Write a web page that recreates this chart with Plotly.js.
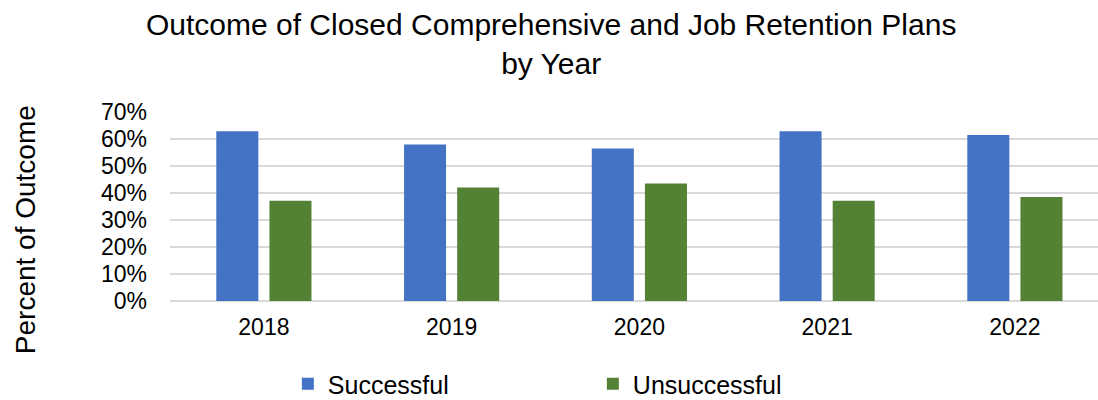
<!DOCTYPE html>
<html>
<head>
<meta charset="utf-8">
<script src="https://cdn.plot.ly/plotly-3.0.1.min.js"></script>
<style>html,body{margin:0;padding:0;background:#fff;} #chart{width:1098px;height:400px;}</style>
</head>
<body>
<div id="chart"></div>
<script>
const years = ['2018', '2019', '2020', '2021', '2022'];
const successful = [0.629, 0.580, 0.565, 0.629, 0.615];
const unsuccessful = [0.371, 0.420, 0.435, 0.371, 0.385];
const seriesNames = ['Successful', 'Unsuccessful'];
const yTickVals = [0, 0.1, 0.2, 0.3, 0.4, 0.5, 0.6, 0.7];

const FONT = 'Liberation Sans, Arial, sans-serif';

const traces = [
  {type: 'bar', name: seriesNames[0], x: years, y: successful, marker: {color: '#4472C4'}, hoverinfo: 'none'},
  {type: 'bar', name: seriesNames[1], x: years, y: unsuccessful, marker: {color: '#548235'}, hoverinfo: 'none'}
];

const layout = {
  width: 1098, height: 400,
  margin: {l: 170, r: 0, t: 112, b: 99, pad: 0, autoexpand: false},
  paper_bgcolor: '#ffffff', plot_bgcolor: '#ffffff',
  font: {family: FONT, color: '#000000'},
  title: {
    text: 'Outcome of Closed Comprehensive and Job Retention Plans<br>by Year',
    font: {family: FONT, size: 30, color: '#000000'},
    x: 0.502, xref: 'container', xanchor: 'center',
    y: 0.912, yref: 'container', yanchor: 'top'
  },
  barmode: 'group', bargap: 0.434, bargroupgap: 0.209,
  xaxis: {
    type: 'category',
    range: [-0.5, 4.4427],
    showgrid: false, zeroline: false, showline: false,
    ticks: '', ticklabelstandoff: 10,
    tickfont: {family: FONT, size: 23, color: '#000000'}
  },
  yaxis: {
    range: [0, 0.7],
    tickvals: yTickVals, tickformat: '.0%',
    showgrid: true, gridcolor: '#d9d9d9', gridwidth: 1.5,
    zeroline: true, zerolinecolor: '#d9d9d9', zerolinewidth: 1.5,
    showline: false, ticks: '', ticklabelstandoff: 22,
    tickfont: {family: FONT, size: 23, color: '#000000'}
  },
  showlegend: true,
  legend: {
    orientation: 'h', x: 0.127, xanchor: 'left',
    yref: 'container', y: 0.04, yanchor: 'middle',
    entrywidth: 260, entrywidthmode: 'pixels',
    font: {family: FONT, size: 25, color: '#000000'},
    bgcolor: 'rgba(0,0,0,0)', borderwidth: 0
  },
  annotations: [{
    text: 'Percent of Outcome', textangle: -90,
    xref: 'paper', yref: 'paper', x: -0.15625, y: 0.3747,
    xanchor: 'center', yanchor: 'middle', showarrow: false,
    font: {family: FONT, size: 28, color: '#000000'}
  }]
};

Plotly.newPlot('chart', traces, layout, {displayModeBar: false, staticPlot: true});
</script>
</body>
</html>
